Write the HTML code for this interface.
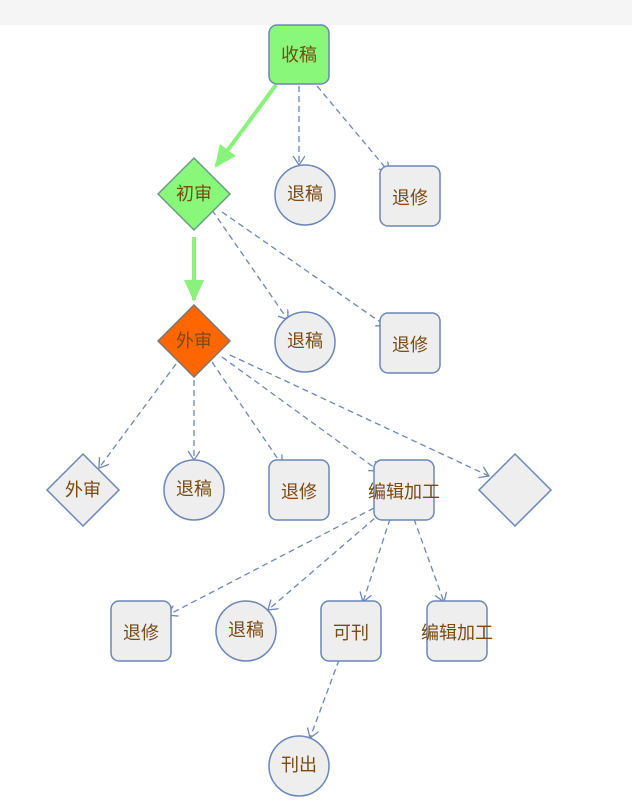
<!DOCTYPE html>
<html><head><meta charset="utf-8"><style>
html,body{margin:0;padding:0;background:#fff;width:632px;height:803px;overflow:hidden}
text{font-family:"Liberation Sans","Noto Sans CJK SC",sans-serif;font-size:18px;fill:#7a4a12;text-anchor:middle;dominant-baseline:central}
</style></head><body>
<svg width="632" height="803" viewBox="0 0 632 803" xmlns="http://www.w3.org/2000/svg">
<defs>
<marker id="a" markerWidth="14" markerHeight="14" refX="10" refY="6" orient="auto" markerUnits="userSpaceOnUse"><path d="M1,0 L10,6 L1,12" fill="none" stroke="#6b86b8" stroke-width="1.3"/></marker>
<marker id="g" markerWidth="26" markerHeight="26" refX="20" refY="10" orient="auto" markerUnits="userSpaceOnUse"><path d="M0,0 L22,10 L0,20 Z" fill="#88f27a"/></marker>
</defs>
<rect x="0" y="0" width="632" height="25" fill="#f5f5f5"/>
<g stroke="#88f27a" stroke-width="4" fill="none">
<line x1="276" y1="85" x2="216" y2="166" marker-end="url(#g)"/>
<line x1="194" y1="237" x2="194" y2="300" marker-end="url(#g)"/>
</g>
<g stroke="#6b86b8" stroke-width="1.3" stroke-dasharray="6,4" fill="none" marker-end="url(#a)">
<line x1="299" y1="86" x2="299" y2="165"/>
<line x1="317" y1="86" x2="389" y2="172"/>
<line x1="212" y1="210" x2="288" y2="320"/>
<line x1="222" y1="212" x2="386" y2="326"/>
<line x1="176" y1="364" x2="99" y2="468"/>
<line x1="194" y1="380" x2="194" y2="460"/>
<line x1="212" y1="362" x2="282" y2="465"/>
<line x1="222" y1="357" x2="379" y2="471"/>
<line x1="230" y1="355" x2="489" y2="476"/>
<line x1="374" y1="508" x2="168" y2="615"/>
<line x1="382" y1="512" x2="268" y2="610"/>
<line x1="390" y1="519" x2="363" y2="602"/>
<line x1="414" y1="519" x2="444" y2="602"/>
<line x1="339" y1="660" x2="310" y2="738"/>
</g>
<g stroke="#6b86b8" stroke-width="1.5">
<rect x="269" y="25" width="60" height="59" rx="8" fill="#88f77a"/>
<polygon points="194,158 230,194 194,230 158,194" fill="#88f77a" stroke="#6a9a8a"/>
<circle cx="305" cy="195" r="30" fill="#eeeeee"/>
<rect x="380" y="166" width="60" height="60" rx="8" fill="#eeeeee"/>
<polygon points="194,305 230,341 194,377 158,341" fill="#ff6600" stroke="#777"/>
<circle cx="305" cy="342" r="30" fill="#eeeeee"/>
<rect x="380" y="313" width="60" height="60" rx="8" fill="#eeeeee"/>
<polygon points="83,454 119,490 83,526 47,490" fill="#eeeeee"/>
<circle cx="194" cy="490" r="30" fill="#eeeeee"/>
<rect x="269" y="460" width="60" height="60" rx="8" fill="#eeeeee"/>
<rect x="374" y="460" width="60" height="60" rx="8" fill="#eeeeee"/>
<polygon points="515,454 551,490 515,526 479,490" fill="#eeeeee"/>
<rect x="111" y="601" width="60" height="60" rx="8" fill="#eeeeee"/>
<circle cx="246" cy="631" r="30" fill="#eeeeee"/>
<rect x="321" y="601" width="60" height="60" rx="8" fill="#eeeeee"/>
<rect x="427" y="601" width="60" height="60" rx="8" fill="#eeeeee"/>
<circle cx="299" cy="766" r="30" fill="#eeeeee"/>
</g>
<text x="299" y="55">收稿</text>
<text x="194" y="194">初审</text>
<text x="305" y="194">退稿</text>
<text x="410" y="198">退修</text>
<text x="194" y="341">外审</text>
<text x="305" y="341">退稿</text>
<text x="410" y="345">退修</text>
<text x="83" y="490">外审</text>
<text x="194" y="489">退稿</text>
<text x="299" y="492">退修</text>
<text x="404" y="492">编辑加工</text>
<text x="141" y="633">退修</text>
<text x="246" y="630">退稿</text>
<text x="351" y="633">可刊</text>
<text x="457" y="633">编辑加工</text>
<text x="299" y="765">刊出</text>
</svg>
</body></html>
